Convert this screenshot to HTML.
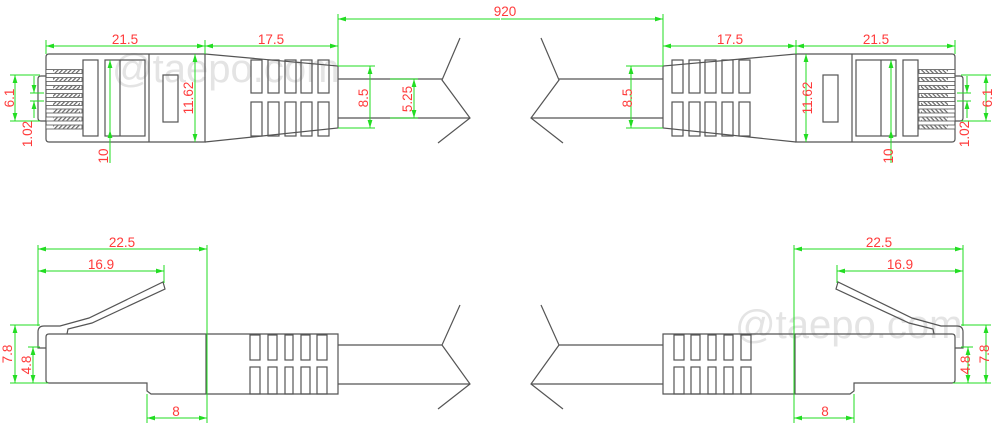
<!DOCTYPE html>
<html><head><meta charset="utf-8"><style>
html,body{margin:0;padding:0;background:#fff;}
svg{display:block;}
text{font-family:"Liberation Sans",sans-serif;font-size:13.5px;fill:#ff3a3a;}
.wm{font-size:40px;fill:#e4e4e4;}
</style></head><body>
<svg width="1000" height="441" viewBox="0 0 1000 441" xmlns="http://www.w3.org/2000/svg">
<defs>
<marker id="a" viewBox="0 0 10 6" refX="10" refY="3" markerWidth="8" markerHeight="5" orient="auto-start-reverse" markerUnits="userSpaceOnUse"><path d="M0,0L10,3L0,6Z" fill="#22dd22"/></marker>
<pattern id="h" width="3" height="3" patternUnits="userSpaceOnUse" patternTransform="rotate(45)"><rect width="1.2" height="3" fill="#666"/></pattern>
<g id="half">
 <g fill="none" stroke="#555" stroke-width="1.2">
  <path d="M49,54H205V142H49Q46,142 46,139V57Q46,54 49,54Z"/>
  <path d="M46,76H41Q38,76 38,79V118Q38,121 41,121H46"/>
  <rect x="83" y="60" width="15" height="76"/>
  <rect x="105" y="60" width="40" height="76"/>
  <line x1="120" y1="60" x2="120" y2="136"/>
  <line x1="149" y1="54" x2="149" y2="142"/>
  <rect x="163" y="75" width="15" height="47"/>
  <path d="M205,54L338,66V128L205,142"/>
  <rect x="251" y="60" width="11" height="33"/><rect x="268" y="60" width="11" height="33"/><rect x="285" y="60" width="11" height="33"/><rect x="301" y="60" width="11" height="33"/><rect x="318" y="60" width="11" height="33"/>
  <rect x="251" y="102" width="11" height="34"/><rect x="268" y="102" width="11" height="34"/><rect x="285" y="102" width="11" height="34"/><rect x="301" y="102" width="11" height="34"/><rect x="318" y="102" width="11" height="34"/>
  <line x1="338" y1="79" x2="442" y2="79"/><line x1="338" y1="118" x2="470" y2="118"/>
  <path d="M460,38L442,80L470,118L438,143"/>
 </g>
 <g stroke="#555" stroke-width="0.8">
  <rect x="46" y="69.5" width="36" height="4" fill="#fff"/><rect x="53" y="70" width="27" height="3" fill="url(#h)" stroke="none"/>
  <rect x="46" y="77.5" width="36" height="4" fill="#fff"/><rect x="53" y="78" width="27" height="3" fill="url(#h)" stroke="none"/>
  <rect x="46" y="85.5" width="36" height="4" fill="#fff"/><rect x="53" y="86" width="27" height="3" fill="url(#h)" stroke="none"/>
  <rect x="46" y="93.5" width="36" height="4" fill="#fff"/><rect x="53" y="94" width="27" height="3" fill="url(#h)" stroke="none"/>
  <rect x="46" y="101.5" width="36" height="4" fill="#fff"/><rect x="53" y="102" width="27" height="3" fill="url(#h)" stroke="none"/>
  <rect x="46" y="109" width="36" height="4" fill="#fff"/><rect x="53" y="109.5" width="27" height="3" fill="url(#h)" stroke="none"/>
  <rect x="46" y="117" width="36" height="4" fill="#fff"/><rect x="53" y="117.5" width="27" height="3" fill="url(#h)" stroke="none"/>
  <rect x="46" y="125" width="36" height="4" fill="#fff"/><rect x="53" y="125.5" width="27" height="3" fill="url(#h)" stroke="none"/>
 </g>
 <g stroke="#22dd22" stroke-width="1" fill="none">
  <line x1="46" y1="40" x2="46" y2="54"/><line x1="205" y1="40" x2="205" y2="54"/><line x1="338" y1="14" x2="338" y2="66"/>
  <line x1="46" y1="46" x2="205" y2="46" marker-start="url(#a)" marker-end="url(#a)"/>
  <line x1="205" y1="46" x2="338" y2="46" marker-start="url(#a)" marker-end="url(#a)"/>
  <line x1="338" y1="19" x2="500" y2="19" marker-start="url(#a)"/>
  <line x1="10" y1="75" x2="40" y2="75"/><line x1="10" y1="121" x2="40" y2="121"/>
  <line x1="15" y1="75" x2="15" y2="121" marker-start="url(#a)" marker-end="url(#a)"/>
  <line x1="30" y1="93" x2="44" y2="93"/><line x1="30" y1="101" x2="44" y2="101"/>
  <line x1="34" y1="76" x2="34" y2="93" marker-end="url(#a)"/><line x1="34" y1="118" x2="34" y2="101" marker-end="url(#a)"/>
  <line x1="110" y1="60" x2="110" y2="163" marker-start="url(#a)"/><line x1="110" y1="136" x2="110" y2="130" marker-end="url(#a)"/>
  <line x1="195" y1="54" x2="195" y2="142" marker-start="url(#a)" marker-end="url(#a)"/>
  <line x1="338" y1="66" x2="375" y2="66"/><line x1="338" y1="128" x2="375" y2="128"/>
  <line x1="370" y1="66" x2="370" y2="128" marker-start="url(#a)" marker-end="url(#a)"/>
 </g>
 <g fill="none" stroke="#555" stroke-width="1.2">
  <path d="M49,334H338V394H151L147,391V383H49Q46,383 46,380V337Q46,334 49,334Z"/>
  <line x1="206" y1="334" x2="206" y2="394"/>
  <path d="M46,348H38V332Q38,326 44,326H60L89,318L163,282L165,289L92,323L68,329L67,334"/>
  <rect x="250" y="335" width="10" height="25"/><rect x="268" y="335" width="9" height="25"/><rect x="285" y="335" width="8" height="25"/><rect x="301" y="335" width="9" height="25"/><rect x="317" y="335" width="10" height="25"/>
  <rect x="250" y="367" width="10" height="27"/><rect x="268" y="367" width="9" height="27"/><rect x="285" y="367" width="8" height="27"/><rect x="301" y="367" width="9" height="27"/><rect x="317" y="367" width="10" height="27"/>
  <line x1="338" y1="345" x2="442" y2="345"/><line x1="338" y1="384" x2="470" y2="384"/>
  <path d="M460,305L442,345L470,384L438,409"/>
 </g>
 <g stroke="#22dd22" stroke-width="1" fill="none">
  <line x1="38" y1="245" x2="38" y2="326"/><line x1="207" y1="245" x2="207" y2="423"/>
  <line x1="38" y1="249" x2="207" y2="249" marker-start="url(#a)" marker-end="url(#a)"/>
  <line x1="164" y1="265" x2="164" y2="283"/>
  <line x1="38" y1="271" x2="164" y2="271" marker-start="url(#a)" marker-end="url(#a)"/>
  <line x1="10" y1="325" x2="40" y2="325"/><line x1="10" y1="383" x2="48" y2="383"/><line x1="28" y1="347" x2="40" y2="347"/>
  <line x1="15" y1="325" x2="15" y2="383" marker-start="url(#a)" marker-end="url(#a)"/>
  <line x1="33" y1="347" x2="33" y2="383" marker-start="url(#a)" marker-end="url(#a)"/>
  <line x1="147" y1="394" x2="147" y2="423"/>
  <line x1="147" y1="418" x2="207" y2="418" marker-start="url(#a)" marker-end="url(#a)"/>
 </g>
</g>
</defs>
<text class="wm" x="112" y="82">@taepo.com</text>
<text class="wm" x="735" y="338">@taepo.com</text>
<use href="#half"/>
<use href="#half" transform="translate(1001,0) scale(-1,1)"/>
<g stroke="#22dd22" stroke-width="1" fill="none">
  <line x1="390" y1="79" x2="418" y2="79"/><line x1="390" y1="118" x2="418" y2="118"/>
  <line x1="414" y1="79" x2="414" y2="118" marker-start="url(#a)" marker-end="url(#a)"/>
</g>
<text x="125" y="44" text-anchor="middle">21.5</text>
<text x="271" y="44" text-anchor="middle">17.5</text>
<text x="505" y="16" text-anchor="middle">920</text>
<text x="730" y="44" text-anchor="middle">17.5</text>
<text x="876" y="44" text-anchor="middle">21.5</text>
<g text-anchor="middle">
<text transform="translate(14,98) rotate(-90)">6.1</text>
<text transform="translate(32,134) rotate(-90)">1.02</text>
<text transform="translate(108,156) rotate(-90)">10</text>
<text transform="translate(193,98) rotate(-90)">11.62</text>
<text transform="translate(368,98) rotate(-90)">8.5</text>
<text transform="translate(412,99) rotate(-90)">5.25</text>
<text transform="translate(632,98) rotate(-90)">8.5</text>
<text transform="translate(812,98) rotate(-90)">11.62</text>
<text transform="translate(893,156) rotate(-90)">10</text>
<text transform="translate(969,134) rotate(-90)">1.02</text>
<text transform="translate(992,98) rotate(-90)">6.1</text>
<text x="122" y="247">22.5</text>
<text x="101" y="269">16.9</text>
<text x="176" y="416">8</text>
<text x="879" y="247">22.5</text>
<text x="900" y="269">16.9</text>
<text x="825" y="416">8</text>
<text transform="translate(12,354) rotate(-90)">7.8</text>
<text transform="translate(31,365) rotate(-90)">4.8</text>
<text transform="translate(970,365) rotate(-90)">4.8</text>
<text transform="translate(989,354) rotate(-90)">7.8</text>
</g>
</svg>
</body></html>
